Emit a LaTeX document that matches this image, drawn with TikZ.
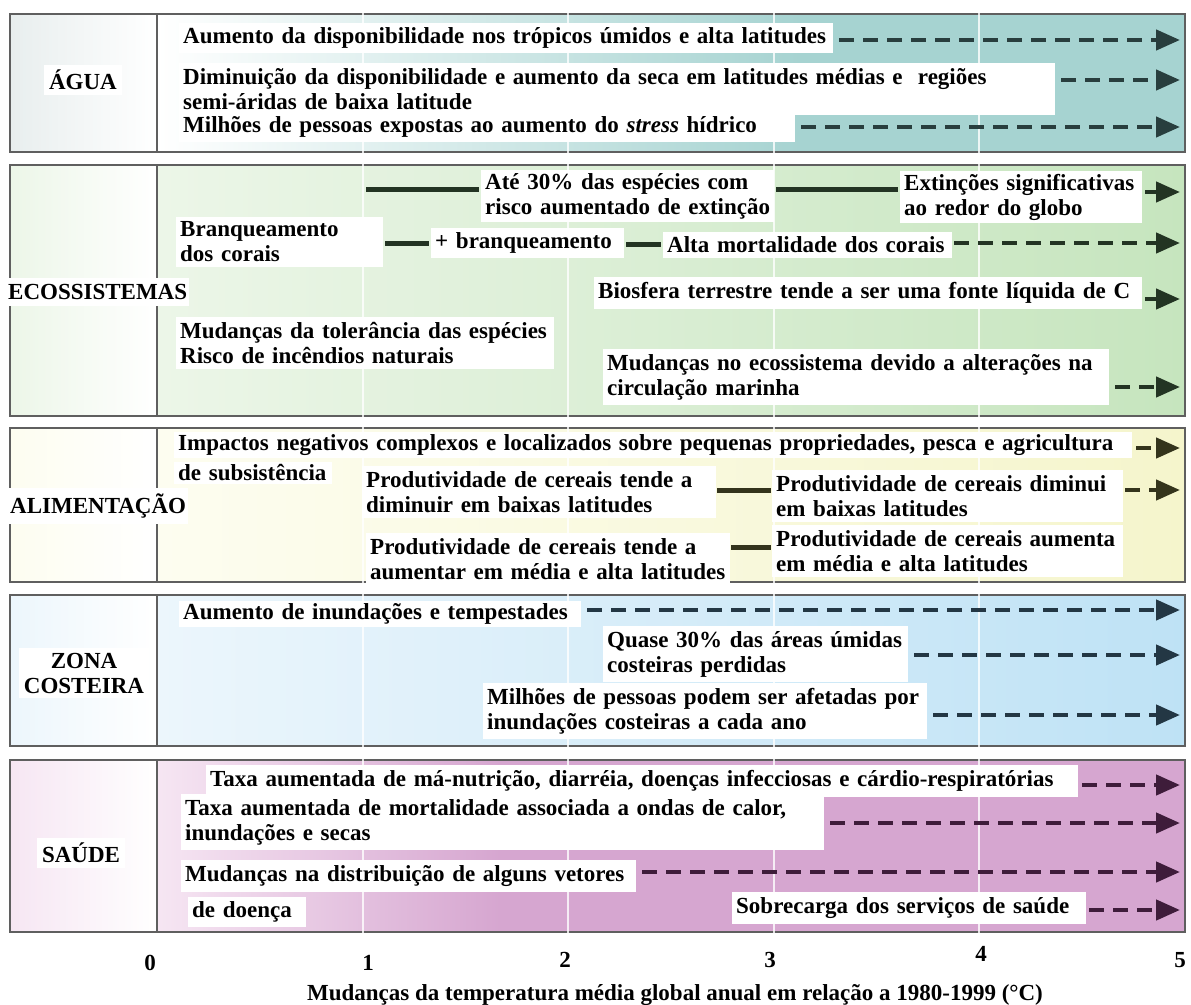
\documentclass[tikz,border=0pt]{standalone}
\usepackage{fontspec}
\setmainfont{Liberation Serif}
\usetikzlibrary{arrows.meta,calc}
\definecolor{bordc}{RGB}{95,95,95}
\definecolor{aguaC}{RGB}{166,211,209}
\definecolor{aguaL}{RGB}{232,238,238}
\definecolor{ecoA}{RGB}{236,246,232}
\definecolor{ecoB}{RGB}{198,229,190}
\definecolor{alimA}{RGB}{253,253,240}
\definecolor{alimB}{RGB}{245,245,204}
\definecolor{zonaA}{RGB}{236,246,252}
\definecolor{zonaB}{RGB}{190,226,245}
\definecolor{saudeA}{RGB}{246,230,243}
\definecolor{saudeB}{RGB}{214,166,208}
\definecolor{aguaD}{RGB}{40,62,62}
\definecolor{ecoD}{RGB}{35,52,35}
\definecolor{alimD}{RGB}{52,52,28}
\definecolor{zonaD}{RGB}{35,55,68}
\definecolor{saudeD}{RGB}{62,28,58}
\tikzset{
  tx/.style={font=\fontsize{23}{25}\selectfont\bfseries, inner sep=0pt},
  tb/.style={tx, fill=white, anchor=west, align=left, inner xsep=4pt, inner ysep=5pt,
     execute at begin node={\hyphenpenalty=10000\exhyphenpenalty=10000}},
  lab/.style={tx, fill=white, inner xsep=5pt, inner ysep=5pt, align=center},
  panel/.style={draw=bordc, line width=2.5pt},
  gridl/.style={draw=white, line width=2pt, opacity=0.8},
  darr/.style={line width=4.5pt, dash pattern=on 15pt off 9pt,
     -{Triangle[length=24pt,width=20pt]}, shorten <=6pt},
  sline/.style={line width=5pt, shorten <=2pt, shorten >=2pt},
}
\begin{document}
\begin{tikzpicture}[x=1pt,y=-1pt]
\fill[white] (0,0) rectangle (1191,1004);
\useasboundingbox (0,0) rectangle (1191,1004);

% ---------- backgrounds ----------
\shade[left color=aguaL, right color=white] (10,14) rectangle (157,152);
\shade[left color=white, right color=aguaC] (157,14) rectangle (800,152);
\fill[aguaC] (800,14) rectangle (1185,152);

\shade[left color=ecoA, right color=white] (10,165) rectangle (157,416);
\shade[left color=ecoA, right color=ecoB] (157,165) rectangle (1185,416);

\shade[left color=alimA, right color=white] (10,428) rectangle (157,582);
\shade[left color=alimA, right color=alimB] (157,428) rectangle (1185,582);

\shade[left color=zonaA, right color=white] (10,595) rectangle (157,746);
\shade[left color=zonaA, right color=zonaB] (157,595) rectangle (1185,746);

\shade[left color=saudeA, right color=white] (10,760) rectangle (157,932);
\shade[left color=saudeA, right color=saudeB] (157,760) rectangle (500,932);
\fill[saudeB] (500,760) rectangle (1185,932);

% ---------- borders ----------
\draw[panel] (10,14) rectangle (1185,152);   \draw[panel] (157,14) -- (157,152);
\draw[panel] (10,165) rectangle (1185,416);  \draw[panel] (157,165) -- (157,416);
\draw[panel] (10,428) rectangle (1185,582);  \draw[panel] (157,428) -- (157,582);
\draw[panel] (10,595) rectangle (1185,746);  \draw[panel] (157,595) -- (157,746);
\draw[panel] (10,760) rectangle (1185,932);  \draw[panel] (157,760) -- (157,932);

% ---------- grid ----------
\foreach \gx in {363,568,774,979} \draw[gridl] (\gx,8) -- (\gx,938);

% ---------- ÁGUA ----------
\node[lab] (lagua) at (83,80) {ÁGUA};
\node[tb, text width=646pt] (a1) at (179,38) {Aumento da disponibilidade nos trópicos úmidos e alta latitudes};
\node[tb, text width=868pt] (a2) at (179,89) {Diminuição da disponibilidade e aumento da seca em latitudes médias e\ \ regiões\\semi-áridas de baixa latitude};
\node[tb, text width=608pt] (a3) at (179,127) {Milhões de pessoas expostas ao aumento do \textit{stress} hídrico};
\coordinate (a1t) at (1180,40);
\coordinate (a2t) at (1180,80);
\coordinate (a3t) at (1180,127);
\draw[darr, aguaD] (a1.east |- a1t) -- (a1t);
\draw[darr, aguaD] (a2.east |- a2t) -- (a2t);
\draw[darr, aguaD] (a3.east |- a3t) -- (a3t);

% ---------- ECOSSISTEMAS ----------
\node[tb, inner ysep=3pt, text width=285pt] (e2) at (481,196) {Até 30\% das espécies com\\risco aumentado de extinção};
\node[tb, inner ysep=3pt, text width=234pt] (e4) at (900,197) {Extinções significativas\\ao redor do globo};
\node[tb, text width=199pt] (e5) at (176,242) {Branqueamento\\dos corais};
\node[tb, text width=185pt] (e6) at (431,243) {+ branqueamento};
\node[tb, text width=281pt] (e7) at (663,245) {Alta mortalidade dos corais};
\node[tb, text width=540pt] (e8) at (594,293) {Biosfera terrestre tende a ser uma fonte líquida de C};
\node[tb, text width=370pt] (e9) at (176,343) {Mudanças da tolerância das espécies\\Risco de incêndios naturais};
\node[tb, text width=498pt] (e10) at (603,377) {Mudanças no ecossistema devido a alterações na\\circulação marinha};
\node[lab, anchor=west, inner xsep=2pt, inner ysep=6pt] (leco) at (6,292) {ECOSSISTEMAS};
\coordinate (e1s) at (366,189);
\draw[sline, ecoD, shorten <=0pt] (e1s) -- (e2.west |- e1s);
\draw[sline, ecoD] (e2.east |- e1s) -- (e4.west |- e1s);
\coordinate (e56) at (0,243);
\draw[sline, ecoD] (e5.east |- e56) -- (e6.west |- e56);
\coordinate (e67) at (0,244);
\draw[sline, ecoD] (e6.east |- e67) -- (e7.west |- e67);
\coordinate (e4t) at (1180,192);
\coordinate (e7t) at (1180,243);
\coordinate (e8t) at (1180,299);
\coordinate (e10t) at (1180,387);
\draw[darr, ecoD, shorten <=3pt] (e4.east |- e4t) -- (e4t);
\draw[darr, ecoD, shorten <=2pt] (e7.east |- e7t) -- (e7t);
\draw[darr, ecoD, shorten <=3pt] (e8.east |- e8t) -- (e8t);
\draw[darr, ecoD] (e10.east |- e10t) -- (e10t);

% ---------- ALIMENTAÇÃO ----------
\node[tb, inner ysep=2pt, text width=950pt] (l1) at (174,445) {Impactos negativos complexos e localizados sobre pequenas propriedades, pesca e agricultura};
\node[tb, inner ysep=3pt, text width=150pt] (l2) at (174,473) {de subsistência};
\node[tb, text width=346pt] (l3) at (362,492) {Produtividade de cereais tende a\\diminuir em baixas latitudes};
\node[tb, text width=343pt] (l4) at (772,496) {Produtividade de cereais diminui\\em baixas latitudes};
\node[tb, text width=356pt] (l5) at (366,559) {Produtividade de cereais tende a\\aumentar em média e alta latitudes};
\node[tb, text width=343pt] (l6) at (772,551) {Produtividade de cereais aumenta\\em média e alta latitudes};
\node[lab, anchor=west, inner xsep=2pt, inner ysep=6pt] (lalim) at (8,506) {ALIMENTAÇÃO};
\coordinate (l34) at (0,490);
\draw[sline, alimD, shorten <=1pt, shorten >=1pt] (l3.east |- l34) -- (l4.west |- l34);
\coordinate (l56) at (0,547);
\draw[sline, alimD, shorten <=1pt, shorten >=1pt] (l5.east |- l56) -- (l6.west |- l56);
\coordinate (l1t) at (1180,448);
\coordinate (l4t) at (1180,490);
\draw[darr, alimD, shorten <=4pt] (l1.east |- l1t) -- (l1t);
\draw[darr, alimD, shorten <=2pt] (l4.east |- l4t) -- (l4t);

% ---------- ZONA COSTEIRA ----------
\node[lab] (lzona) at (84,673) {ZONA\\COSTEIRA};
\node[tb, inner ysep=3pt, text width=394pt] (z1) at (179,614) {Aumento de inundações e tempestades};
\node[tb, text width=297pt] (z2) at (603,654) {Quase 30\% das áreas úmidas\\costeiras perdidas};
\node[tb, text width=436pt] (z3) at (483,711) {Milhões de pessoas podem ser afetadas por\\inundações costeiras a cada ano};
\coordinate (z1t) at (1180,610);
\coordinate (z2t) at (1180,655);
\coordinate (z3t) at (1180,715);
\draw[darr, zonaD] (z1.east |- z1t) -- (z1t);
\draw[darr, zonaD] (z2.east |- z2t) -- (z2t);
\draw[darr, zonaD] (z3.east |- z3t) -- (z3t);

% ---------- SAÚDE ----------
\node[lab] (lsaude) at (81,853) {SAÚDE};
\node[tb, text width=864pt] (s1) at (206,781) {Taxa aumentada de má-nutrição, diarréia, doenças infecciosas e cárdio-respiratórias};
\node[tb, text width=635pt] (s2) at (181,822) {Taxa aumentada de mortalidade associada a ondas de calor,\\inundações e secas};
\node[tb, text width=447pt] (s3) at (181,876) {Mudanças na distribuição de alguns vetores};
\node[tb, text width=110pt] (s4) at (188,912) {de doença};
\node[tb, text width=346pt] (s5) at (732,908) {Sobrecarga dos serviços de saúde};
\coordinate (s1t) at (1180,785);
\coordinate (s2t) at (1180,823);
\coordinate (s3t) at (1180,872);
\coordinate (s5t) at (1180,910);
\draw[darr, saudeD, shorten <=4pt] (s1.east |- s1t) -- (s1t);
\draw[darr, saudeD] (s2.east |- s2t) -- (s2t);
\draw[darr, saudeD] (s3.east |- s3t) -- (s3t);
\draw[darr, saudeD, shorten <=3pt] (s5.east |- s5t) -- (s5t);

% ---------- axis ----------
\node[tx] (n0) at (150,963) {0};
\node[tx] (n1) at (368,963) {1};
\node[tx] (n2) at (565,960) {2};
\node[tx] (n3) at (770,960) {3};
\node[tx] (n4) at (981,954) {4};
\node[tx] (n5) at (1180,960) {5};
\node[tx] (ttl) at (675,995) {Mudanças da temperatura média global anual em relação a 1980-1999 (°C)};
\end{tikzpicture}
\end{document}
